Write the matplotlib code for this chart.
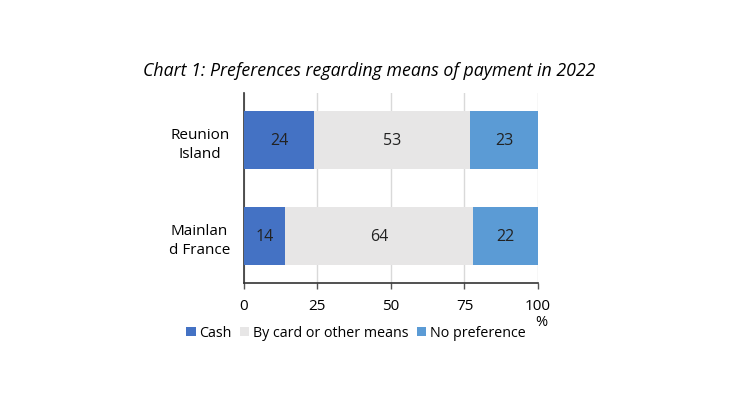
import matplotlib.pyplot as plt

plt.rcParams['font.family'] = ['Open Sans', 'DejaVu Sans']

# data
regions = ['Mainlan\nd France', 'Reunion\nIsland']
cash = [14, 24]
card = [64, 53]
no_pref = [22, 23]
series_names = ['Cash', 'By card or other means', 'No preference']
colors = ['#4472C4', '#E7E6E6', '#5B9BD5']
xticks = [0, 25, 50, 75, 100]

fig = plt.figure(figsize=(7.3, 4.1), dpi=100)
ax = fig.add_axes([0.334, 0.307, 0.403, 0.464])

pos = range(len(regions))
left = [0] * len(regions)
for vals, name, c in zip([cash, card, no_pref], series_names, colors):
    bars = ax.barh(pos, vals, left=left, height=0.6, color=c, label=name, zorder=3)
    ax.bar_label(bars, labels=[str(v) for v in vals], label_type='center',
                 fontsize=11.5, color='#222222')
    left = [l + v for l, v in zip(left, vals)]

ax.set_xlim(0, 100)
ax.set_ylim(-0.49, 1.49)
ax.set_xticks(xticks)
ax.set_xticklabels([str(t) for t in xticks], fontsize=11)
ax.set_yticks(list(pos))
ax.set_yticklabels(regions, fontsize=11, linespacing=1.35, multialignment='center')
ax.tick_params(axis='y', length=0, pad=10)
ax.tick_params(axis='x', length=4, width=1, color='#555555', pad=7)
ax.grid(axis='x', color='#D9D9D9', linewidth=1, zorder=0)
for s in ['top', 'right']:
    ax.spines[s].set_visible(False)
for s in ['left', 'bottom']:
    ax.spines[s].set_color('#333333')
    ax.spines[s].set_linewidth(1.2)

fig.text(541 / 730, 1 - 322 / 410, '%', ha='center', va='center', fontsize=10.5)

fig.legend(loc='center', bbox_to_anchor=(356 / 730, 1 - 334 / 410), ncol=3,
           frameon=False, fontsize=10.3, handlelength=0.65, handleheight=0.65,
           handletextpad=0.25, columnspacing=0.6)

fig.text(369 / 730, 1 - 71 / 410,
         'Chart 1: Preferences regarding means of payment in 2022',
         ha='center', va='center', fontsize=12.8, style='italic')

fig.savefig('out.png', dpi=100)
